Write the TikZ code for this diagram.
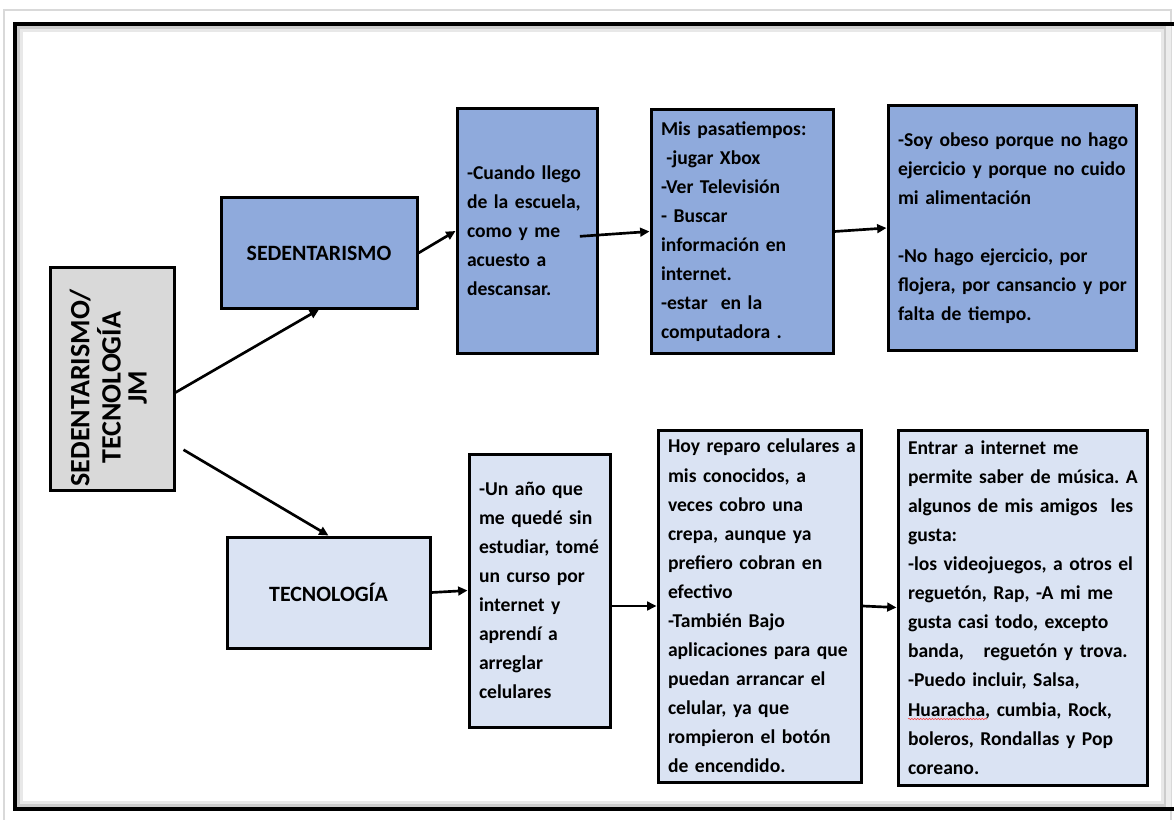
\documentclass[tikz,border=0pt]{standalone}
\usepackage{fontspec}
\setmainfont{Carlito}
\usepackage{graphicx}
\usetikzlibrary{arrows.meta, decorations.pathmorphing}
\frenchspacing

\definecolor{sedblue}{HTML}{8FAADC}
\definecolor{tecblue}{HTML}{DAE3F3}
\definecolor{rootgray}{HTML}{D9D9D9}

\begin{document}
\begin{tikzpicture}[x=0.75pt, y=-0.75pt,
  box/.style={draw, line width=2.25pt, rectangle, align=left, inner xsep=7.5pt,
    font=\fontsize{14.7}{21.8}\selectfont\bfseries,
    execute at begin node={\rightskip=0pt minus 40pt\relax}},
  sedbox/.style={box, fill=sedblue},
  tecbox/.style={box, fill=tecblue},
  arr/.style={line width=2pt, -{Triangle[length=7pt, width=6.5pt]}}]
  \useasboundingbox (0,0) rectangle (1174,820);

  % Draw the frame with its shadow
  \draw[gray!30, line width=0.8pt] (4,10) rectangle (1171,830);
  \fill[gray!15] (1163,24) rectangle (1171,809);
  \draw[gray!18, line width=3pt] (21,30) rectangle (1163,803);
  \draw[gray!40, line width=2pt] (18.5,27.5) rectangle (1165,805.5);
  \draw[line width=3pt] (15,24) rectangle (1190,809);

  % Root
  \node[box, fill=rootgray, minimum width=93pt, minimum height=166.5pt, align=center,
    font=\fontsize{21}{19.5}\selectfont\bfseries] (root) at (112,379)
    {\rotatebox{90}{\begin{tabular}{@{}c@{}}SEDENTARISMO/\\TECNOLOGÍA\\JM\end{tabular}\hspace*{13pt}}};

  % Sedentarismo row
  \node[sedbox, minimum width=147pt, minimum height=82.5pt, align=center,
    font=\fontsize{16.4}{20}\selectfont\bfseries] (sed) at (319,253) {SEDENTARISMO};
  \node[sedbox, text width=90pt, minimum height=183pt] (s1) at (527,231)
    {-Cuando llego\\de la escuela,\\como y me\\acuesto a\\descansar.};
  \node[sedbox, text width=121.5pt, minimum height=182.25pt, inner ysep=2pt] (s2) at (742,231.5)
    {Mis pasatiempos:\\\hspace*{4pt}-jugar Xbox\\-Ver Televisión\\- Buscar\\información en\\internet.\\-estar \ en la\\computadora .};
  \node[sedbox, text width=171pt, minimum height=183pt] (s3) at (1012,228)
    {-Soy obeso porque no hago\\ejercicio y porque no cuido\\mi alimentación\\[21.8pt]-No hago ejercicio, por\\flojera, por cansancio y por\\falta de tiempo.};

  % Tecnologia row
  \node[tecbox, minimum width=152.25pt, minimum height=83.25pt, align=center,
    font=\fontsize{16.4}{20}\selectfont\bfseries] (tec) at (328.5,592.5) {TECNOLOGÍA};
  \node[tecbox, text width=90.75pt, minimum height=204.75pt] (t1) at (539.5,590.5)
    {-Un año que\\me quedé sin\\estudiar, tomé\\un curso por\\internet y\\aprendí a\\arreglar\\celulares};
  \node[tecbox, text width=137.25pt, minimum height=264pt, inner ysep=2pt] (t2) at (759.5,606)
    {Hoy reparo celulares a\\mis conocidos, a\\veces cobro una\\crepa, aunque ya\\prefiero cobran en\\efectivo\\-También Bajo\\aplicaciones para que\\puedan arrancar el\\celular, ya que\\rompieron el botón\\de encendido.};
  \node[tecbox, text width=171.75pt, minimum height=266.25pt, inner ysep=2pt] (t3) at (1022.5,607.5)
    {Entrar a internet me\\permite saber de música. A\\algunos de mis amigos \ les\\gusta:\\-los videojuegos, a otros el\\reguetón, Rap, -A mi me\\gusta casi todo, excepto\\banda, \ \ reguetón y trova.\\-Puedo incluir, Salsa,\\Huaracha, cumbia, Rock,\\boleros, Rondallas y Pop\\coreano.};
  % spell check wave under Huaracha
  \draw[red!80, line width=0.4pt, decorate, decoration={snake, amplitude=0.5pt, segment length=2.2pt}]
    (908,719) -- (987,719);

  % Arrows
  \draw[arr] (root.-12) -- (sed.south);
  \draw[arr] ([shift={(8,5)}]root.-46) -- (tec.north);
  \draw[arr] (sed.east) -- (s1.west);
  \draw[arr] ([xshift=-14pt, yshift=-4pt]s1.east) -- (s2.west);
  \draw[arr] (s2.east) -- (s3.west);
  \draw[arr] (tec.east) -- (t1.west);
  \draw[arr] (t1.east |- t2.west) -- (t2.west);
  \draw[arr] (t2.east) -- (t3.west);
\end{tikzpicture}
\end{document}
